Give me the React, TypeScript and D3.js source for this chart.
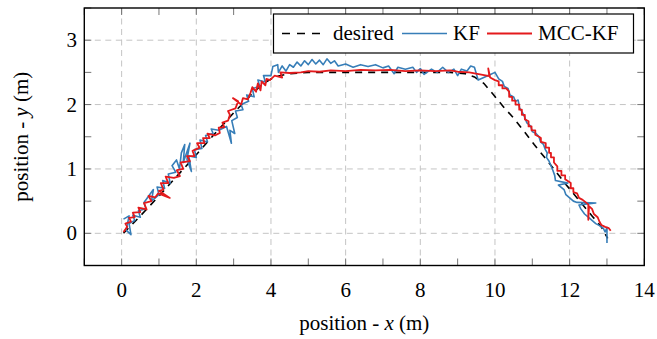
import React from "react";
import * as d3 from "d3";

// trajectories, [x, y] in metres
const desired: [number, number][] = [
  [0.05, 0], [0.5, 0.27], [1, 0.58], [1.5, 0.9], [2, 1.22], [2.5, 1.55], [3, 1.87],
  [3.5, 2.17], [3.8, 2.33], [4.1, 2.43], [4.5, 2.48], [5, 2.5], [6, 2.5], [7, 2.5],
  [8, 2.5], [8.8, 2.5], [9.2, 2.48], [9.45, 2.43], [9.7, 2.33], [9.95, 2.16],
  [10.25, 1.95], [10.5, 1.79], [10.8, 1.57], [11.05, 1.38], [11.3, 1.2], [11.55, 1.02],
  [11.9, 0.76], [12.3, 0.48], [12.6, 0.27], [12.85, 0.1], [13.02, -0.08],
];

const kf: [number, number][] = [
  [0.05, 0.22], [0.2, 0.27], [0.12, 0.05], [0.25, -0.02], [0.2, 0.15], [0.35, 0.2],
  [0.3, 0.28], [0.5, 0.25], [0.45, 0.35], [0.65, 0.38], [0.6, 0.48], [0.85, 0.68],
  [0.8, 0.5], [1.0, 0.6], [0.95, 0.72], [1.15, 0.7], [1.1, 0.82], [1.3, 0.78],
  [1.25, 0.92], [1.45, 0.95], [1.35, 1.05], [1.47, 1.14], [1.55, 1.0], [1.6, 1.25],
  [1.69, 1.38], [1.65, 1.1], [1.83, 1.4], [1.75, 1.15], [1.87, 0.96], [1.8, 1.2],
  [2.0, 1.18], [1.95, 1.3], [2.15, 1.32], [2.1, 1.45], [2.3, 1.42], [2.25, 1.52],
  [2.45, 1.55], [2.4, 1.62], [2.6, 1.6], [2.81, 1.66], [2.94, 1.4], [2.9, 1.6],
  [3.03, 1.55], [2.95, 1.75], [3.1, 1.8], [3.05, 1.9], [3.25, 1.92], [3.2, 2.0],
  [3.4, 2.05], [3.35, 2.15], [3.55, 2.12], [3.5, 2.25], [3.7, 2.28], [3.65, 2.38],
  [3.85, 2.35], [3.8, 2.45], [4.0, 2.45], [4.05, 2.59], [4.18, 2.62], [4.2, 2.5],
  [4.3, 2.6], [4.4, 2.52], [4.5, 2.62], [4.6, 2.58], [4.7, 2.66], [4.8, 2.6],
  [4.9, 2.68], [5.0, 2.62], [5.1, 2.7], [5.2, 2.63], [5.3, 2.69], [5.4, 2.62],
  [5.5, 2.71], [5.6, 2.64], [5.7, 2.68], [5.8, 2.6], [6.0, 2.63], [6.2, 2.58],
  [6.4, 2.62], [6.6, 2.59], [6.8, 2.62], [7.0, 2.57], [7.15, 2.6], [7.3, 2.48],
  [7.4, 2.58], [7.6, 2.55], [7.8, 2.58], [7.9, 2.5], [8.0, 2.56], [8.1, 2.47],
  [8.3, 2.55], [8.45, 2.5], [8.6, 2.58], [8.75, 2.5], [8.9, 2.55], [9.0, 2.45],
  [9.1, 2.55], [9.25, 2.52], [9.35, 2.6], [9.45, 2.58], [9.55, 2.38], [9.7, 2.42],
  [9.85, 2.46], [10.0, 2.5], [10.1, 2.4], [10.2, 2.36], [10.25, 2.28], [10.35, 2.25],
  [10.4, 2.15], [10.5, 2.12], [10.55, 2.05], [10.62, 2.07], [10.66, 1.95], [10.74, 1.87],
  [10.8, 1.8], [10.85, 1.72], [10.96, 1.66], [11.0, 1.58], [11.1, 1.55], [11.18, 1.5],
  [11.22, 1.42], [11.3, 1.38], [11.35, 1.3], [11.4, 1.25], [11.38, 1.18], [11.45, 1.12],
  [11.5, 1.05], [11.55, 0.98], [11.6, 0.9], [11.62, 0.82], [11.95, 0.78], [11.7, 0.75],
  [11.85, 0.68], [11.9, 0.6], [12.0, 0.55], [12.1, 0.5], [12.2, 0.48], [12.7, 0.47],
  [12.25, 0.44], [12.3, 0.38], [12.4, 0.3], [12.5, 0.25], [12.6, 0.2], [12.7, 0.15],
  [12.8, 0.12], [12.9, 0.08], [12.95, 0.02], [13.0, 0.09], [13.0, -0.15],
];

const mccKf: [number, number][] = [
  [0.05, 0.02], [0.15, 0.1], [0.1, 0.15], [0.25, 0.18], [0.2, 0.24], [0.35, 0.25],
  [0.3, 0.32], [0.5, 0.33], [0.45, 0.4], [0.67, 0.37], [0.6, 0.47], [0.8, 0.5],
  [0.72, 0.58], [0.9, 0.56], [0.98, 0.62], [1.29, 0.55], [1.0, 0.66], [1.12, 0.68],
  [1.05, 0.78], [1.25, 0.78], [1.18, 0.88], [1.4, 0.86], [1.56, 0.89], [1.48, 0.98],
  [1.65, 1.0], [1.58, 1.1], [1.83, 1.12], [1.75, 1.2], [1.95, 1.2], [1.9, 1.28],
  [2.09, 1.33], [2.02, 1.4], [2.22, 1.4], [2.18, 1.48], [2.36, 1.48], [2.3, 1.55],
  [2.5, 1.52], [2.63, 1.56], [2.6, 1.64], [2.75, 1.65], [2.7, 1.72], [2.85, 1.75],
  [2.9, 1.84], [2.85, 1.9], [3.05, 1.94], [3.12, 2.05], [2.98, 2.1], [3.2, 2.0],
  [3.25, 2.1], [3.38, 2.08], [3.45, 2.18], [3.5, 2.27], [3.6, 2.2], [3.65, 2.33],
  [3.72, 2.22], [3.75, 2.36], [3.85, 2.3], [3.88, 2.4], [3.97, 2.38], [4.1, 2.45],
  [4.3, 2.42], [4.25, 2.5], [4.5, 2.49], [4.8, 2.5], [5.0, 2.52], [5.3, 2.51],
  [5.6, 2.53], [6.0, 2.52], [6.4, 2.54], [6.8, 2.53], [7.2, 2.54], [7.6, 2.52],
  [8.0, 2.53], [8.4, 2.52], [8.8, 2.53], [9.0, 2.51], [9.31, 2.5], [9.6, 2.47],
  [9.85, 2.44], [9.82, 2.56], [9.87, 2.42], [10.0, 2.38], [10.1, 2.36], [10.1, 2.3],
  [10.2, 2.3], [10.2, 2.25], [10.3, 2.25], [10.38, 2.2], [10.38, 2.12], [10.46, 2.12],
  [10.46, 2.06], [10.55, 2.06], [10.55, 2.0], [10.65, 2.0], [10.65, 1.92], [10.72, 1.92],
  [10.72, 1.84], [10.8, 1.84], [10.8, 1.77], [10.9, 1.74], [10.9, 1.66], [10.98, 1.66],
  [10.98, 1.6], [11.08, 1.6], [11.08, 1.53], [11.18, 1.5], [11.23, 1.48], [11.23, 1.42],
  [11.36, 1.4], [11.36, 1.33], [11.45, 1.33], [11.45, 1.25], [11.5, 1.25], [11.5, 1.18],
  [11.58, 1.18], [11.58, 1.1], [11.67, 1.04], [11.67, 0.97], [11.78, 0.97], [11.78, 0.9],
  [11.88, 0.9], [11.88, 0.84], [12.03, 0.78], [12.03, 0.7], [12.1, 0.7], [12.1, 0.64],
  [12.2, 0.62], [12.25, 0.55], [12.35, 0.52], [12.5, 0.45], [12.5, 0.21], [12.52, 0.42],
  [12.6, 0.38], [12.65, 0.3], [12.75, 0.25], [12.8, 0.18], [12.85, 0.13], [12.95, 0.1],
  [13.05, 0.08], [13.1, 0.04],
];

const xTicks = [0, 2, 4, 6, 8, 10, 12, 14];
const xMinor = [-1, 1, 3, 5, 7, 9, 11, 13];
const yTicks = [0, 1, 2, 3];
const yMinor = [-0.5, 0.5, 1.5, 2.5, 3.5];

const W = 657;
const H = 339;
const left = 84.3, right = 644.3, top = 8, bottom = 265.5;
const font = "Liberation Serif, Times New Roman, serif";
const blue = "#377eb8";
const red = "#e41a1c";

export default function App() {
  const x = d3.scaleLinear().domain([-1, 14]).range([left, right]);
  const y = d3.scaleLinear().domain([-0.5, 3.5]).range([bottom, top]);
  const line = d3
    .line<[number, number]>()
    .x((d) => x(d[0]))
    .y((d) => y(d[1]));
  const tl = 7; // tick length

  return (
    <svg
      width={W}
      height={H}
      style={{ position: "absolute", left: 0, top: 0, background: "#fff", fontFamily: font }}
    >
      {/* grid */}
      <g stroke="#c4c4c4" strokeWidth={1} strokeDasharray="6,4.5">
        {xTicks.filter((t) => t < 14).map((t) => (
          <line key={"gx" + t} x1={x(t)} x2={x(t)} y1={top} y2={bottom} />
        ))}
        {yTicks.map((t) => (
          <line key={"gy" + t} x1={left} x2={right} y1={y(t)} y2={y(t)} />
        ))}
      </g>

      {/* ticks on all four sides */}
      <g stroke="#666" strokeWidth={0.9}>
        {[...xTicks, ...xMinor].map((t) => (
          <g key={"tx" + t}>
            <line x1={x(t)} x2={x(t)} y1={bottom} y2={bottom - tl} />
            <line x1={x(t)} x2={x(t)} y1={top} y2={top + tl} />
          </g>
        ))}
        {[...yTicks, ...yMinor].map((t) => (
          <g key={"ty" + t}>
            <line x1={left} x2={left + tl} y1={y(t)} y2={y(t)} />
            <line x1={right} x2={right - tl} y1={y(t)} y2={y(t)} />
          </g>
        ))}
      </g>

      {/* series */}
      <path d={line(desired) || ""} fill="none" stroke="#000" strokeWidth={1.6} strokeDasharray="7,6" />
      <path d={line(kf) || ""} fill="none" stroke={blue} strokeWidth={1.6} strokeLinejoin="round" />
      <path d={line(mccKf) || ""} fill="none" stroke={red} strokeWidth={1.8} strokeLinejoin="round" />

      {/* frame */}
      <rect x={left} y={top} width={right - left} height={bottom - top} fill="none" stroke="#000" strokeWidth={1.4} />

      {/* tick labels */}
      <g fontSize={21} fill="#000">
        {xTicks.map((t) => (
          <text key={"lx" + t} x={x(t)} y={297} textAnchor="middle">
            {t}
          </text>
        ))}
        {yTicks.map((t) => (
          <text key={"ly" + t} x={77} y={y(t) + 7} textAnchor="end">
            {t}
          </text>
        ))}
      </g>

      {/* axis titles */}
      <text x={(left + right) / 2} y={330} textAnchor="middle" fontSize={21}>
        position - <tspan fontStyle="italic">x</tspan> (m)
      </text>
      <text
        transform={`translate(28,${(top + bottom) / 2}) rotate(-90)`}
        textAnchor="middle"
        fontSize={21}
      >
        position - <tspan fontStyle="italic">y</tspan> (m)
      </text>

      {/* legend */}
      <g>
        <rect x={273.5} y={14} width={360} height={39} fill="#fff" stroke="#000" strokeWidth={1.2} />
        <line x1={282} x2={321} y1={33.5} y2={33.5} stroke="#000" strokeWidth={1.6} strokeDasharray="8,7" />
        <text x={333} y={40} fontSize={21}>desired</text>
        <line x1={402} x2={447} y1={33.5} y2={33.5} stroke={blue} strokeWidth={1.6} />
        <text x={453} y={40} fontSize={21}>KF</text>
        <line x1={487} x2={532} y1={33.5} y2={33.5} stroke={red} strokeWidth={1.8} />
        <text x={538} y={40} fontSize={21}>MCC-KF</text>
      </g>
    </svg>
  );
}
